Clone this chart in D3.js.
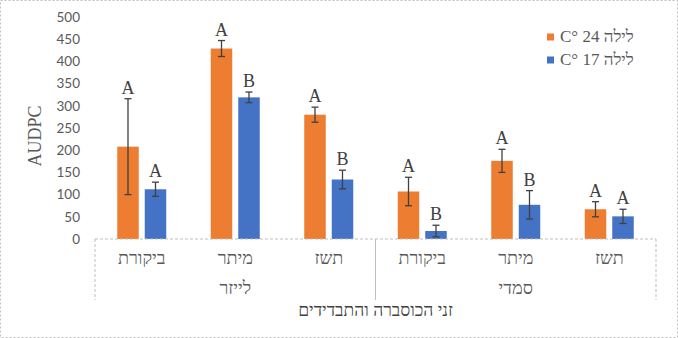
<!DOCTYPE html>
<html>
<head>
<meta charset="utf-8">
<script src="https://cdn.jsdelivr.net/npm/d3@7"></script>
<style>
  html, body { margin: 0; padding: 0; background: #fff; }
  svg { display: block; }
</style>
</head>
<body>
<div id="chart"></div>
<script>
// Disease severity (AUDPC) by coriander variety and treatment, two night temperatures
const groups = ["לייזר", "סמדי"];
const treatments = ["ביקורת", "מיתר", "תשז"];
const series = ["לילה 24 °C", "לילה 17 °C"];
const legendLabels = ["C° 24 לילה", "C° 17 לילה"];
const values24 = [208, 429, 280, 107, 176, 67];
const errors24 = [108, 18, 17, 32, 26, 17];
const letters24 = ["A", "A", "A", "A", "A", "A"];
const values17 = [112, 319, 134, 18, 77, 51];
const errors17 = [16, 12, 21, 13, 32, 16];
const letters17 = ["A", "B", "B", "B", "B", "A"];
const yTicks = [0, 50, 100, 150, 200, 250, 300, 350, 400, 450, 500];
const yTitle = "AUDPC";
const xTitle = "זני הכוסברה והתבדידים";

const W = 678, H = 338;
const colors = ["#ED7D31", "#4472C4"];
const plot = { left: 95, right: 656, top: 17, bottom: 239 };

const cats = [];
groups.forEach((g, gi) => treatments.forEach((t, ti) => cats.push({ key: gi + "-" + ti, group: g, label: t })));

const svg = d3.select("#chart").append("svg").attr("width", W).attr("height", H);

// outer frame
svg.append("rect").attr("x", 0.5).attr("y", 0.5).attr("width", W - 1).attr("height", H - 1)
  .attr("fill", "#fff").attr("stroke", "#bfbfbf").attr("stroke-dasharray", "2,2");

const x0 = d3.scaleBand().domain(cats.map(c => c.key)).range([plot.left, plot.right]).padding(0);
const pair = 49;
const x1 = d3.scaleBand().domain([0, 1])
  .range([x0.bandwidth() / 2 - pair / 2, x0.bandwidth() / 2 + pair / 2]).paddingInner(0.218);
const y = d3.scaleLinear().domain([0, 500]).range([plot.bottom, plot.top]);

// y tick labels
const yAxis = svg.append("g").attr("transform", `translate(${plot.left - 15},0)`)
  .call(d3.axisLeft(y).tickValues(yTicks).tickSize(0).tickPadding(0));
yAxis.select(".domain").remove();
yAxis.selectAll("text").attr("font-family", "Lato, 'Open Sans', sans-serif")
  .attr("font-size", 13.5).attr("fill", "#595959");

svg.append("text").attr("transform", `translate(41,${(plot.top + plot.bottom) / 2 + 8}) rotate(-90)`)
  .attr("text-anchor", "middle").attr("font-family", "'Liberation Serif', serif")
  .attr("font-size", 18).attr("fill", "#595959").text(yTitle);

// bars, error bars and letters
const seriesData = [
  { vals: values24, errs: errors24, letters: letters24 },
  { vals: values17, errs: errors17, letters: letters17 }
];
seriesData.forEach((s, si) => {
  const g = svg.append("g");
  cats.forEach((c, i) => {
    const bx = x0(c.key) + x1(si);
    const bw = x1.bandwidth();
    const v = s.vals[i], e = s.errs[i];
    g.append("rect").attr("x", bx).attr("y", y(v)).attr("width", bw).attr("height", y(0) - y(v))
      .attr("fill", colors[si]);
    const cx = bx + bw / 2;
    const top = y(v + e), bot = y(Math.max(0, v - e));
    g.append("line").attr("x1", cx).attr("x2", cx).attr("y1", top).attr("y2", bot)
      .attr("stroke", "#404040").attr("stroke-width", 1.3);
    [top, bot].forEach(yy => g.append("line").attr("x1", cx - 3.5).attr("x2", cx + 3.5)
      .attr("y1", yy).attr("y2", yy).attr("stroke", "#404040").attr("stroke-width", 1.3));
    g.append("text").attr("x", cx).attr("y", top - 5).attr("text-anchor", "middle")
      .attr("font-family", "'Liberation Serif', serif").attr("font-size", 18)
      .attr("fill", "#404040").text(s.letters[i]);
  });
});

// category axis: baseline and separators
svg.append("line").attr("x1", plot.left).attr("x2", plot.right).attr("y1", plot.bottom).attr("y2", plot.bottom)
  .attr("stroke", "#bfbfbf").attr("stroke-dasharray", "3,2");
[plot.left, plot.right].forEach(xx => svg.append("line").attr("x1", xx).attr("x2", xx)
  .attr("y1", plot.bottom).attr("y2", 300).attr("stroke", "#bfbfbf").attr("stroke-dasharray", "3,2"));
const mid = x0(cats[3].key);
svg.append("line").attr("x1", mid).attr("x2", mid).attr("y1", plot.bottom).attr("y2", 300)
  .attr("stroke", "#bfbfbf").attr("stroke-width", 1);

const hebFont = "'Liberation Serif', 'DejaVu Serif', serif";
cats.forEach(c => svg.append("text").attr("x", x0(c.key) + x0.bandwidth() / 2).attr("y", 264)
  .attr("text-anchor", "middle").attr("font-family", hebFont).attr("font-size", 18)
  .attr("fill", "#595959").text(c.label));
groups.forEach((g, gi) => {
  const first = x0(cats[gi * 3].key), last = x0(cats[gi * 3 + 2].key) + x0.bandwidth();
  svg.append("text").attr("x", (first + last) / 2).attr("y", 294).attr("text-anchor", "middle")
    .attr("font-family", hebFont).attr("font-size", 18).attr("fill", "#595959").text(g);
});
svg.append("text").attr("x", (plot.left + plot.right) / 2).attr("y", 316).attr("text-anchor", "middle")
  .attr("font-family", hebFont).attr("font-size", 17.5).attr("fill", "#404040").text(xTitle);

// legend
legendLabels.forEach((l, i) => {
  const ly = 37 + i * 23;
  svg.append("rect").attr("x", 547).attr("y", ly - 3.5).attr("width", 7).attr("height", 7).attr("fill", colors[i]);
  svg.append("text").attr("x", 560).attr("y", ly + 5).attr("font-family", hebFont)
    .attr("font-size", 17).attr("fill", "#595959").attr("direction", "ltr").text(l);
});
</script>
</body>
</html>
